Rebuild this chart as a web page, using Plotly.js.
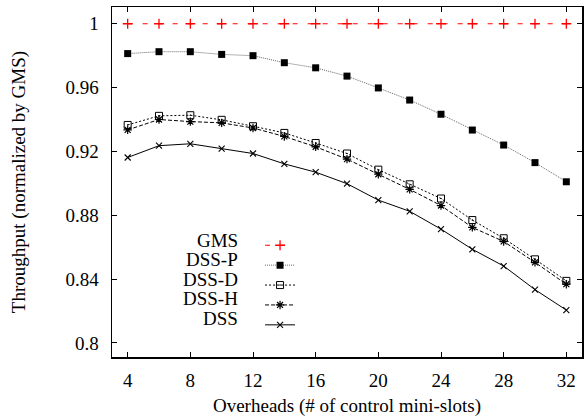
<!DOCTYPE html>
<html>
<head>
<meta charset="utf-8">
<script src="https://cdn.plot.ly/plotly-3.0.1.min.js"></script>
<style>html,body{margin:0;padding:0;background:#fff;}#chart{width:584px;height:418px;}</style>
</head>
<body>
<div id="chart"></div>
<script>
// Data
const overheads = [4, 6, 8, 10, 12, 14, 16, 18, 20, 22, 24, 26, 28, 30, 32];
const gms   = [1, 1, 1, 1, 1, 1, 1, 1, 1, 1, 1, 1, 1, 1, 1];
const dssP  = [0.9813, 0.9825, 0.9825, 0.9808, 0.9800, 0.9756, 0.9724, 0.9672, 0.9598, 0.9522, 0.9433, 0.9334, 0.9240, 0.9130, 0.9010];
const dssD  = [0.9366, 0.9423, 0.9427, 0.9398, 0.9358, 0.9316, 0.9253, 0.9187, 0.9086, 0.8994, 0.8905, 0.8770, 0.8656, 0.8524, 0.8389];
const dssH  = [0.9335, 0.9400, 0.9387, 0.9379, 0.9347, 0.9294, 0.9229, 0.9152, 0.9057, 0.8962, 0.8861, 0.8724, 0.8636, 0.8505, 0.8368];
const dss   = [0.9162, 0.9236, 0.9248, 0.9217, 0.9187, 0.9122, 0.9070, 0.8998, 0.8895, 0.8825, 0.8713, 0.8587, 0.8482, 0.8334, 0.8206];
const seriesNames = ['GMS', 'DSS-P', 'DSS-D', 'DSS-H', 'DSS'];
const xTickVals = [4, 8, 12, 16, 20, 24, 28, 32];
const yTickVals = [0.8, 0.84, 0.88, 0.92, 0.96, 1];
const yTickText = ['0.8', '0.84', '0.88', '0.92', '0.96', '1'];
const xTitle = 'Overheads (# of control mini-slots)';
const yTitle = 'Throughput (normalized by GMS)';

const FONT = "'Liberation Serif', 'Times New Roman', serif";

const styles = [
  {line: {color: '#ff0000', width: 1, dash: '5px,10px'}, marker: {symbol: 'cross-thin-open', size: 7, color: '#ff0000', line: {width: 1.3, color: '#ff0000'}}},
  {line: {color: '#666666', width: 1, dash: '1px,1px'}, marker: {symbol: 'square', size: 7, color: '#000000'}},
  {line: {color: '#000000', width: 1, dash: '2px,2px'}, marker: {symbol: 'square-open-dot', size: 7, color: '#000000', line: {width: 1, color: '#000000'}}},
  {line: {color: '#000000', width: 1, dash: '4px,2px'}, marker: {symbol: 'asterisk-open', size: 7, color: '#000000', line: {width: 1.2, color: '#000000'}}},
  {line: {color: '#000000', width: 1}, marker: {symbol: 'x-thin-open', size: 6, color: '#000000', line: {width: 1.1, color: '#000000'}}}
];
const ys = [gms, dssP, dssD, dssH, dss];

const traces = ys.map((y, i) => ({
  x: overheads, y: y, type: 'scatter', mode: 'lines+markers',
  name: '', meta: seriesNames[i],
  hovertemplate: '%{meta}: %{y}<extra></extra>',
  line: styles[i].line, marker: styles[i].marker
}));

// Legend label annotations (text left of the sample, as in the reference)
const rowTop = 0.333, rowStep = 0.0557;
const annotations = seriesNames.map((n, i) => ({
  text: n, xref: 'paper', yref: 'paper', x: 0.272, y: rowTop - i * rowStep,
  xanchor: 'right', yanchor: 'middle', showarrow: false,
  font: {family: FONT, size: 19, color: '#000'}
}));

const axisCommon = {
  showline: true, linecolor: '#000', linewidth: 1.5, mirror: 'ticks',
  ticks: 'inside', ticklen: 5, tickwidth: 1, tickcolor: '#000',
  showgrid: false, zeroline: false,
  tickfont: {family: FONT, size: 19, color: '#000'}
};

const layout = {
  width: 584, height: 418,
  margin: {l: 112, r: 2, t: 7, b: 61},
  paper_bgcolor: '#fff', plot_bgcolor: '#fff',
  font: {family: FONT},
  showlegend: true,
  legend: {
    x: 0.315, y: 0.362, xanchor: 'left', yanchor: 'top',
    bgcolor: 'rgba(0,0,0,0)', borderwidth: 0,
    font: {family: FONT, size: 13, color: '#000'},
    tracegroupgap: 0
  },
  xaxis: Object.assign({}, axisCommon, {
    range: [3, 33], tickvals: xTickVals, ticklabelstandoff: 6,
    title: {text: xTitle, font: {family: FONT, size: 19, color: '#000'}, standoff: 8}
  }),
  yaxis: Object.assign({}, axisCommon, {
    range: [0.7912, 1.0105], tickvals: yTickVals, ticktext: yTickText, ticklabelstandoff: 8,
    title: {text: yTitle, font: {family: FONT, size: 19, color: '#000'}, standoff: 35}
  }),
  annotations: annotations
};

Plotly.newPlot('chart', traces, layout, {displayModeBar: false, staticPlot: true});
</script>
</body>
</html>
